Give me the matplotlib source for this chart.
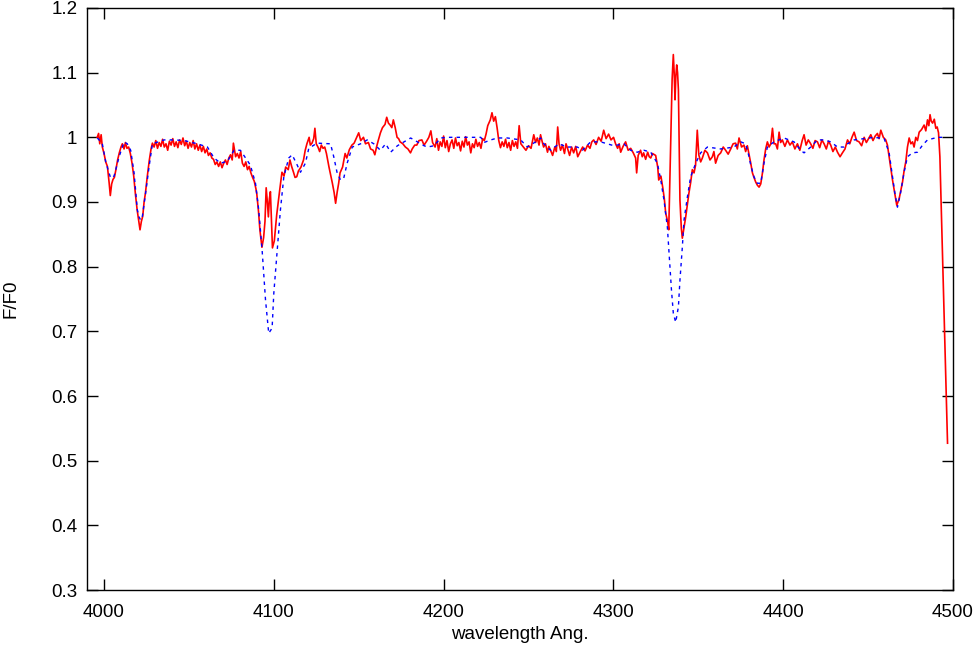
import numpy as np
import matplotlib
matplotlib.use("Agg")
import matplotlib.pyplot as plt
from matplotlib.ticker import MultipleLocator, FuncFormatter

obs_wl = [3996.0, 3996.8, 3997.5, 3998.3, 3999.0, 4000.0, 4001.0, 4002.0, 4003.0, 4003.7,
          4004.5, 4005.3, 4006.1, 4007.0, 4008.0, 4009.0, 4010.0, 4010.8, 4011.8, 4012.6,
          4013.5, 4014.5, 4015.5, 4016.5, 4017.5, 4018.5, 4019.5, 4020.5, 4021.2, 4022.0,
          4022.8, 4023.6, 4024.4, 4025.5, 4026.7, 4027.7, 4028.5, 4029.5, 4030.5, 4031.5,
          4032.5, 4033.5, 4034.5, 4035.5, 4036.5, 4037.5, 4038.5, 4039.5, 4040.5, 4041.5,
          4042.5, 4043.5, 4044.5, 4045.5, 4046.5, 4047.5, 4048.5, 4049.5, 4050.5, 4051.5,
          4052.5, 4053.5, 4054.5, 4055.5, 4056.5, 4057.5, 4058.5, 4059.5, 4060.5, 4061.5,
          4062.5, 4063.5, 4064.5, 4065.5, 4066.5, 4067.5, 4068.5, 4069.5, 4070.5, 4071.5,
          4072.5, 4073.5, 4074.5, 4075.5, 4076.2, 4077.5, 4078.5, 4079.5, 4080.5, 4081.5,
          4082.5, 4083.5, 4084.5, 4085.5, 4086.5, 4087.5, 4088.5, 4089.5, 4090.0, 4091.0,
          4091.8, 4093.0, 4094.0, 4094.8, 4095.5, 4096.2, 4096.8, 4097.4, 4098.0, 4098.6,
          4099.2, 4100.3, 4101.0, 4101.7, 4102.6, 4103.5, 4104.8, 4106.0, 4107.0, 4108.5,
          4109.5, 4110.5, 4111.6, 4112.5, 4113.5, 4114.5, 4116.0, 4117.5, 4118.5, 4119.5,
          4120.8, 4121.5, 4122.5, 4123.5, 4124.2, 4125.0, 4126.0, 4127.0, 4128.0, 4129.0,
          4130.0, 4131.0, 4132.5, 4134.5, 4135.5, 4136.4, 4137.3, 4138.2, 4139.0, 4140.5,
          4142.0, 4143.0, 4144.5, 4146.0, 4147.3, 4148.5, 4150.0, 4151.2, 4152.8, 4154.0,
          4155.7, 4157.0, 4158.5, 4159.5, 4160.5, 4161.5, 4162.8, 4164.0, 4165.5, 4166.5,
          4167.5, 4168.5, 4169.5, 4170.4, 4171.5, 4172.6, 4173.5, 4174.4, 4176.0, 4177.5,
          4179.0, 4180.5, 4181.5, 4183.0, 4184.2, 4185.5, 4187.2, 4188.5, 4190.0, 4191.3,
          4192.5, 4193.5, 4195.0, 4196.0, 4197.0, 4198.0, 4199.0, 4200.0, 4201.0, 4202.0,
          4203.0, 4204.0, 4205.0, 4206.0, 4207.0, 4208.0, 4209.0, 4210.0, 4211.0, 4212.0,
          4213.0, 4214.0, 4215.0, 4216.0, 4217.0, 4218.0, 4219.0, 4220.0, 4221.0, 4222.0,
          4223.0, 4224.0, 4225.0, 4226.0, 4227.5, 4228.5, 4229.5, 4230.5, 4231.5, 4232.5,
          4233.5, 4234.5, 4235.5, 4236.5, 4237.5, 4238.5, 4239.5, 4240.5, 4241.5, 4242.5,
          4243.5, 4244.5, 4245.5, 4247.0, 4248.5, 4250.0, 4251.5, 4253.1, 4254.2, 4255.2,
          4256.2, 4257.1, 4258.0, 4258.9, 4260.0, 4261.2, 4262.0, 4263.0, 4264.2, 4265.5,
          4266.4, 4267.2, 4268.0, 4268.9, 4270.0, 4271.2, 4272.1, 4273.0, 4274.2, 4275.4,
          4276.6, 4277.8, 4279.0, 4280.5, 4281.9, 4283.3, 4284.8, 4286.2, 4287.3, 4288.4,
          4289.8, 4291.3, 4292.8, 4294.3, 4295.7, 4297.2, 4298.6, 4300.1, 4301.3, 4302.5,
          4303.4, 4304.3, 4305.7, 4307.2, 4308.7, 4310.2, 4311.7, 4313.1, 4313.7, 4314.6,
          4316.0, 4317.0, 4317.8, 4319.0, 4320.2, 4321.1, 4322.0, 4323.0, 4324.9, 4326.1,
          4326.7, 4328.0, 4329.1, 4330.0, 4330.8, 4332.0, 4332.6, 4333.8, 4334.6, 4335.3,
          4335.8, 4336.3, 4336.8, 4337.3, 4337.8, 4338.3, 4339.2, 4340.0, 4340.6, 4341.6,
          4342.6, 4343.5, 4344.5, 4345.5, 4346.5, 4347.5, 4348.4, 4349.4, 4350.3, 4351.4,
          4352.4, 4353.9, 4355.4, 4356.9, 4358.3, 4359.2, 4360.2, 4361.7, 4363.2, 4364.7,
          4366.1, 4367.6, 4369.1, 4370.5, 4372.0, 4373.0, 4374.0, 4375.5, 4376.9, 4377.9,
          4378.9, 4380.0, 4380.9, 4381.9, 4382.8, 4383.8, 4384.8, 4385.8, 4386.8, 4387.8,
          4388.7, 4389.7, 4390.7, 4391.7, 4392.7, 4393.7, 4394.6, 4395.6, 4396.6, 4397.6,
          4398.5, 4399.5, 4401.0, 4402.5, 4404.0, 4405.4, 4406.9, 4408.4, 4409.8, 4411.2,
          4412.3, 4413.5, 4414.8, 4416.2, 4417.5, 4418.8, 4420.2, 4421.5, 4422.8, 4424.1,
          4425.4, 4426.7, 4428.0, 4429.3, 4430.7, 4432.0, 4433.5, 4434.9, 4436.4, 4437.9,
          4439.2, 4440.5, 4441.8, 4443.2, 4444.7, 4446.2, 4447.7, 4449.0, 4450.3, 4451.6,
          4452.9, 4454.2, 4455.5, 4456.5, 4457.5, 4459.0, 4460.4, 4461.4, 4462.4, 4463.4,
          4464.4, 4465.7, 4466.9, 4468.3, 4469.3, 4470.3, 4471.2, 4472.2, 4473.2, 4474.2,
          4475.2, 4476.2, 4477.1, 4478.1, 4479.1, 4480.1, 4481.5, 4483.0, 4484.0, 4485.0,
          4485.8, 4486.5, 4487.2, 4488.0, 4489.0, 4489.9, 4490.7, 4491.5, 4492.3, 4496.8]
obs_f = [1.000, 1.006, 0.990, 1.004, 0.985, 0.975, 0.962, 0.955, 0.930, 0.910,
         0.928, 0.935, 0.938, 0.950, 0.965, 0.976, 0.985, 0.990, 0.982, 0.992,
         0.983, 0.985, 0.975, 0.960, 0.940, 0.912, 0.888, 0.870, 0.857, 0.870,
         0.878, 0.900, 0.914, 0.940, 0.965, 0.982, 0.991, 0.985, 0.995, 0.983,
         0.992, 0.986, 0.997, 0.985, 0.990, 0.980, 0.994, 0.988, 0.998, 0.986,
         0.993, 0.984, 0.996, 0.989, 0.999, 0.987, 0.994, 0.983, 0.992, 0.985,
         0.995, 0.982, 0.990, 0.980, 0.988, 0.978, 0.986, 0.976, 0.982, 0.972,
         0.976, 0.968, 0.966, 0.958, 0.962, 0.955, 0.962, 0.953, 0.960, 0.965,
         0.958, 0.968, 0.973, 0.965, 0.991, 0.970, 0.975, 0.968, 0.978, 0.960,
         0.955, 0.962, 0.950, 0.955, 0.945, 0.938, 0.932, 0.920, 0.912, 0.885,
         0.857, 0.830, 0.845, 0.870, 0.922, 0.900, 0.877, 0.905, 0.916, 0.870,
         0.829, 0.840, 0.860, 0.880, 0.900, 0.919, 0.946, 0.940, 0.954, 0.950,
         0.965, 0.955, 0.946, 0.938, 0.939, 0.948, 0.954, 0.965, 0.980, 0.990,
         1.000, 0.988, 0.991, 0.998, 1.014, 0.990, 0.985, 0.978, 0.988, 0.983,
         0.985, 0.975, 0.954, 0.929, 0.915, 0.898, 0.915, 0.929, 0.945, 0.954,
         0.975, 0.968, 0.981, 0.988, 0.991, 0.998, 1.007, 0.995, 1.000, 0.990,
         0.992, 0.982, 0.980, 0.973, 0.985, 0.995, 1.007, 1.015, 1.020, 1.031,
         1.022, 1.019, 1.015, 1.027, 1.015, 1.000, 0.998, 0.993, 0.990, 0.985,
         0.982, 0.976, 0.982, 0.988, 0.988, 0.995, 0.996, 0.988, 0.994, 1.000,
         1.010, 0.992, 0.985, 0.998, 0.980, 0.993, 0.986, 1.002, 0.984, 0.995,
         0.978, 0.990, 0.996, 0.983, 0.999, 0.987, 0.992, 0.979, 0.994, 0.985,
         1.001, 0.988, 0.993, 0.976, 0.990, 0.984, 0.997, 0.986, 0.992, 0.983,
         0.998, 0.995, 1.005, 1.018, 1.027, 1.038, 1.025, 1.032, 1.015, 0.995,
         0.984, 0.993, 0.986, 0.997, 0.984, 0.992, 0.980, 0.995, 0.986, 0.993,
         0.983, 1.018, 0.990, 0.985, 0.980, 0.987, 0.983, 1.004, 0.992, 0.999,
         0.988, 1.004, 0.994, 0.985, 0.990, 0.977, 0.986, 0.980, 0.972, 0.985,
         0.978, 1.016, 0.990, 0.980, 0.988, 0.975, 0.990, 0.983, 0.972, 0.985,
         0.976, 0.986, 0.970, 0.978, 0.985, 0.979, 0.988, 0.983, 0.993, 0.996,
         0.989, 1.000, 0.994, 1.011, 0.998, 1.005, 0.996, 1.000, 0.990, 0.983,
         0.990, 0.977, 0.986, 0.993, 0.980, 0.983, 0.976, 0.968, 0.945, 0.972,
         0.980, 0.970, 0.976, 0.966, 0.977, 0.970, 0.968, 0.975, 0.972, 0.954,
         0.934, 0.940, 0.922, 0.905, 0.883, 0.869, 0.857, 0.996, 1.090, 1.128,
         1.100, 1.058, 1.095, 1.112, 1.100, 1.073, 0.903, 0.860, 0.844, 0.860,
         0.877, 0.895, 0.914, 0.930, 0.950, 0.945, 0.957, 1.011, 0.973, 0.962,
         0.968, 0.980, 0.976, 0.965, 0.970, 0.978, 0.960, 0.972, 0.976, 0.985,
         0.980, 0.974, 0.982, 0.990, 0.991, 0.982, 0.999, 0.985, 0.988, 0.978,
         0.987, 0.972, 0.960, 0.945, 0.938, 0.931, 0.926, 0.923, 0.928, 0.945,
         0.965, 0.982, 0.993, 0.985, 0.990, 1.014, 0.990, 0.990, 0.982, 1.008,
         0.992, 0.996, 0.986, 0.996, 0.988, 0.993, 0.982, 0.990, 0.980, 0.995,
         1.004, 0.988, 0.996, 0.990, 0.983, 0.995, 0.993, 0.984, 0.996, 0.990,
         0.982, 0.994, 0.988, 0.978, 0.985, 0.977, 0.970, 0.976, 0.982, 0.996,
         0.990, 1.000, 1.008, 0.995, 0.993, 0.987, 1.000, 0.992, 0.998, 1.004,
         0.995, 1.002, 1.006, 0.998, 1.011, 1.000, 0.996, 0.988, 0.970, 0.952,
         0.934, 0.914, 0.895, 0.905, 0.918, 0.931, 0.948, 0.962, 0.985, 0.999,
         0.990, 0.993, 0.985, 1.000, 0.995, 1.008, 1.012, 1.019, 1.010, 1.027,
         1.018, 1.035, 1.025, 1.022, 1.028, 1.014, 1.016, 1.007, 0.970, 0.527]

# model spectrum
mod_wl = [3996.1, 3999.0, 4001.0, 4003.9, 4005.9, 4008.9, 4011.8, 4013.7, 4015.7, 4017.7,
          4019.6, 4020.6, 4021.6, 4022.6, 4024.5, 4026.5, 4028.5, 4035.4, 4041.3, 4047.2,
          4055.0, 4060.9, 4064.8, 4068.7, 4072.7, 4076.6, 4080.3, 4086.2, 4089.2, 4091.1,
          4093.1, 4095.1, 4097.0, 4099.0, 4100.0, 4102.0, 4103.9, 4105.9, 4108.8, 4110.8,
          4113.8, 4115.7, 4118.6, 4120.6, 4125.5, 4133.4, 4135.3, 4137.3, 4139.3, 4141.2,
          4143.2, 4146.2, 4151.1, 4155.0, 4158.9, 4162.8, 4165.9, 4168.8, 4172.8, 4176.7,
          4180.6, 4184.6, 4188.5, 4190.5, 4194.4, 4198.3, 4202.3, 4212.0, 4221.9, 4223.8,
          4227.8, 4231.7, 4237.6, 4245.4, 4249.3, 4254.2, 4257.1, 4259.1, 4263.0, 4267.9,
          4272.9, 4278.8, 4281.7, 4286.6, 4292.5, 4296.4, 4300.3, 4306.2, 4310.2, 4314.1,
          4318.0, 4322.0, 4325.9, 4327.9, 4329.8, 4331.8, 4332.8, 4334.2, 4335.3, 4336.7,
          4338.3, 4339.2, 4340.6, 4341.6, 4343.6, 4345.5, 4348.5, 4351.4, 4355.4, 4363.2,
          4371.0, 4375.0, 4377.9, 4379.9, 4380.9, 4382.8, 4384.8, 4386.8, 4388.7, 4390.7,
          4394.6, 4400.5, 4406.4, 4410.3, 4412.3, 4416.2, 4420.2, 4424.1, 4428.0, 4432.0,
          4435.9, 4437.9, 4441.8, 4447.7, 4453.5, 4459.5, 4462.4, 4464.4, 4465.7, 4467.3,
          4469.2, 4471.2, 4473.2, 4476.2, 4479.1, 4482.1, 4485.0, 4490.9, 4495.8]
mod_f = [0.999, 0.990, 0.962, 0.937, 0.940, 0.970, 0.993, 0.990, 0.980, 0.945,
         0.888, 0.877, 0.872, 0.878, 0.914, 0.954, 0.990, 0.996, 0.996, 0.995,
         0.990, 0.985, 0.968, 0.960, 0.963, 0.980, 0.980, 0.957, 0.929, 0.888,
         0.826, 0.749, 0.697, 0.705, 0.759, 0.826, 0.888, 0.939, 0.968, 0.973,
         0.957, 0.946, 0.960, 0.983, 0.991, 0.990, 0.970, 0.945, 0.934, 0.937,
         0.960, 0.985, 0.990, 0.996, 0.990, 0.980, 0.990, 0.977, 0.987, 0.993,
         0.999, 0.993, 0.987, 0.985, 0.987, 0.999, 1.000, 1.000, 1.000, 0.992,
         0.996, 0.999, 0.999, 0.996, 0.985, 0.993, 0.999, 0.990, 0.980, 0.990,
         0.985, 0.985, 0.980, 0.993, 0.993, 0.990, 0.987, 0.990, 0.980, 0.977,
         0.980, 0.977, 0.960, 0.934, 0.903, 0.861, 0.821, 0.764, 0.728, 0.714,
         0.738, 0.779, 0.830, 0.872, 0.908, 0.939, 0.960, 0.976, 0.985, 0.982,
         0.985, 0.993, 0.990, 0.970, 0.957, 0.939, 0.929, 0.929, 0.960, 0.985,
         0.993, 0.999, 0.993, 0.980, 0.976, 0.985, 0.996, 0.996, 0.993, 0.985,
         0.985, 0.990, 0.996, 0.998, 1.000, 0.998, 0.976, 0.939, 0.915, 0.892,
         0.915, 0.946, 0.970, 0.976, 0.977, 0.988, 0.996, 1.000, 1.000]

plt.rcParams['font.family'] = ['Liberation Sans', 'DejaVu Sans']

fig = plt.figure(figsize=(9.78, 6.5), dpi=100)
ax = fig.add_axes([0.089, 0.0923, 0.8854, 0.8954])

ax.plot(obs_wl, obs_f, color='#ff0000', lw=1.2)
ax.plot(mod_wl, mod_f, color='#0000ff', lw=1.0, linestyle=(0, (2.5, 3)))

ax.set_xlim(3990, 4500)
ax.set_ylim(0.3, 1.2)
ax.xaxis.set_major_locator(MultipleLocator(100))
ax.yaxis.set_major_locator(MultipleLocator(0.1))
ax.yaxis.set_major_formatter(FuncFormatter(lambda v, p: '%g' % round(v, 2)))
ax.tick_params(direction='in', length=8, width=1, top=True, right=True,
               labelsize=13.5)
ax.tick_params(axis='x', pad=10)
ax.tick_params(axis='y', pad=7)
for s in ax.spines.values():
    s.set_linewidth(1)

ax.set_xlabel('wavelength Ang.', fontsize=13.5, labelpad=4)
ax.set_ylabel('F/F0', fontsize=13.5, labelpad=23)

fig.savefig('out.png', dpi=100)
